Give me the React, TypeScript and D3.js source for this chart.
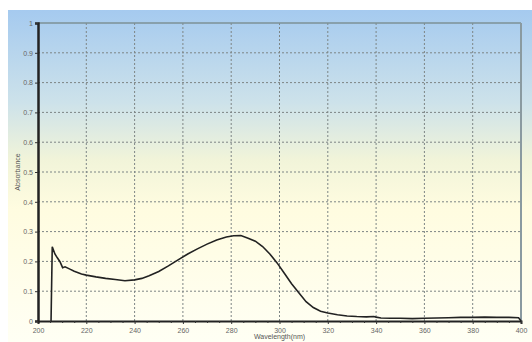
import React, { useEffect, useRef } from 'react';
import * as d3 from 'd3';

// spectrum
const wavelengths = [205.4, 205.9, 207, 208, 209.1, 210.2, 211.2, 213, 215, 218, 220, 224, 228, 232, 236, 240, 243, 246, 250, 254, 258, 262, 266, 270, 274, 278, 281, 284, 287, 290, 293, 296, 299, 302, 305, 308, 311, 314, 317, 320, 324, 328, 332, 336, 339, 340, 342, 346, 350, 355, 360, 365, 370, 375, 380, 385, 390, 395, 399, 400];
const absorbance = [0, 0.249, 0.225, 0.212, 0.199, 0.179, 0.182, 0.175, 0.167, 0.158, 0.154, 0.148, 0.143, 0.139, 0.135, 0.138, 0.143, 0.152, 0.166, 0.185, 0.205, 0.225, 0.242, 0.258, 0.272, 0.282, 0.286, 0.287, 0.278, 0.268, 0.25, 0.225, 0.195, 0.16, 0.125, 0.095, 0.065, 0.045, 0.033, 0.027, 0.021, 0.017, 0.015, 0.014, 0.015, 0.013, 0.01, 0.009, 0.009, 0.008, 0.009, 0.01, 0.011, 0.012, 0.012, 0.013, 0.012, 0.012, 0.011, 0];

const xTicks = [200, 220, 240, 260, 280, 300, 320, 340, 360, 380, 400];
const yTicks = [0, 0.1, 0.2, 0.3, 0.4, 0.5, 0.6, 0.7, 0.8, 0.9, 1];

export default function App() {
  const ref = useRef<SVGSVGElement>(null);

  useEffect(() => {
    const W = 532, H = 342;
    const left = 38, right = 521, top = 23, bottom = 321;
    const svg = d3.select(ref.current);
    svg.selectAll('*').remove();

    const x = d3.scaleLinear().domain([200, 400]).range([left, right]);
    const y = d3.scaleLinear().domain([0, 1]).range([bottom, top]);

    // background gradient
    const grad = svg.append('defs').append('linearGradient')
      .attr('id', 'bg').attr('x1', 0).attr('y1', 0).attr('x2', 0).attr('y2', 1);
    [['0', '#a5caef'], ['0.28', '#cde2ea'], ['0.45', '#f1f4d9'], ['0.6', '#fffce0'], ['1', '#fffff4']]
      .forEach(([o, c]) => grad.append('stop').attr('offset', o).attr('stop-color', c));
    svg.append('rect').attr('x', 8).attr('y', 10).attr('width', W - 8).attr('height', H - 10)
      .attr('fill', 'url(#bg)');

    // grid
    const g = svg.append('g');
    g.selectAll('.vgrid').data(xTicks.slice(1, -1)).join('line')
      .attr('x1', d => x(d)).attr('x2', d => x(d)).attr('y1', top).attr('y2', bottom)
      .attr('stroke', '#7d8585').attr('stroke-width', 1).attr('stroke-dasharray', '2,2');
    g.selectAll('.hgrid').data(yTicks.slice(1, -1)).join('line')
      .attr('x1', left).attr('x2', right).attr('y1', d => y(d)).attr('y2', d => y(d))
      .attr('stroke', '#7d8585').attr('stroke-width', 1).attr('stroke-dasharray', '2,2');

    // frame top / right
    svg.append('line').attr('x1', left).attr('x2', right).attr('y1', top).attr('y2', top)
      .attr('stroke', '#7c9096').attr('stroke-width', 1.5);
    svg.append('line').attr('x1', right).attr('x2', right).attr('y1', top).attr('y2', bottom)
      .attr('stroke', '#8a9aa0').attr('stroke-width', 2);

    // curve
    const line = d3.line<number>().x((d, i) => x(wavelengths[i])).y(d => y(d));
    svg.append('path').datum(absorbance).attr('d', line)
      .attr('fill', 'none').attr('stroke', '#222').attr('stroke-width', 1.6);

    // x axis
    const xAxis = svg.append('g').attr('transform', `translate(0, ${bottom})`)
      .call(d3.axisBottom(x).tickValues(xTicks).tickSize(3).tickFormat(d3.format('d')));
    svg.append('g').attr('transform', `translate(0, ${bottom})`)
      .call(d3.axisBottom(x).tickValues(d3.range(205, 400, 5).filter(v => v % 20 !== 0)).tickSize(2).tickFormat(() => ''))
      .call(a => a.select('.domain').remove())
      .selectAll('line').attr('stroke', '#333');
    xAxis.select('.domain').attr('stroke', '#222').attr('stroke-width', 2);
    xAxis.selectAll('line').attr('stroke', '#333');
    xAxis.selectAll('text').attr('fill', '#666').attr('font-size', 7)
      .attr('font-family', 'Liberation Sans, Arial, sans-serif').attr('dy', '0.9em');

    // y axis
    const yAxis = svg.append('g').attr('transform', `translate(${left}, 0)`)
      .call(d3.axisLeft(y).tickValues(yTicks).tickSize(3).tickFormat(d => d === 0 || d === 1 ? String(d) : d3.format('.1f')(d as number)));
    yAxis.select('.domain').attr('stroke', '#222').attr('stroke-width', 2.5);
    yAxis.selectAll('line').attr('stroke', '#333');
    yAxis.selectAll('text').attr('fill', '#666').attr('font-size', 7)
      .attr('font-family', 'Liberation Sans, Arial, sans-serif').attr('x', -5);

    // labels
    svg.append('text').attr('x', (left + right) / 2).attr('y', 339).attr('text-anchor', 'middle')
      .attr('font-size', 7).attr('fill', '#555').attr('font-family', 'Liberation Sans, Arial, sans-serif')
      .text('Wavelength(nm)');
    svg.append('text').attr('transform', `translate(20, ${(top + bottom) / 2}) rotate(-90)`)
      .attr('text-anchor', 'middle').attr('font-size', 7).attr('fill', '#555')
      .attr('font-family', 'Liberation Sans, Arial, sans-serif')
      .text('Absorbance');
  }, []);

  return (
    <div style={{ position: 'absolute', left: 0, top: 0 }}>
      <svg ref={ref} width={532} height={342} style={{ display: 'block', background: '#fff' }} />
    </div>
  );
}
